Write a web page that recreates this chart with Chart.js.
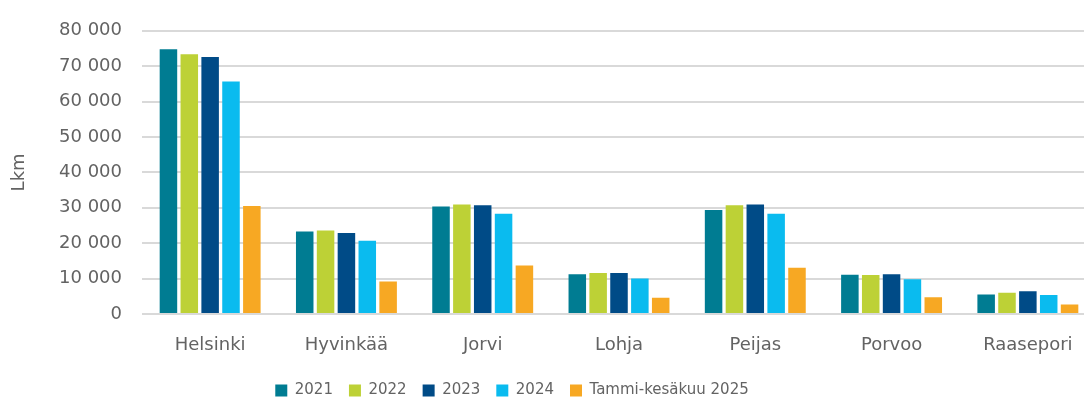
<!DOCTYPE html>
<html>
<head>
<meta charset="utf-8">
<script src="https://cdn.jsdelivr.net/npm/chart.js@4/dist/chart.umd.min.js"></script>
<style>
    html, body { margin: 0; padding: 0; background: #fff; overflow: hidden; width: 1084px; height: 401px; }
    #wrap { width: 1096px; height: 401px; }
</style>
</head>
<body>
<div id="wrap"><canvas id="chart"></canvas></div>
<script>
const hospitals = ["Helsinki", "Hyvinkää", "Jorvi", "Lohja", "Peijas", "Porvoo", "Raasepori"];
const seriesNames = ["2021", "2022", "2023", "2024", "Tammi-kesäkuu 2025"];
const colors = ["#007c92", "#bdd136", "#004b87", "#0abbef", "#f7a823"];
const values2021 = [74800, 23300, 30400, 11200, 29400, 11100, 5500];
const values2022 = [73400, 23600, 30900, 11600, 30700, 11000, 6000];
const values2023 = [72600, 22900, 30700, 11600, 30900, 11200, 6400];
const values2024 = [65700, 20700, 28300, 10000, 28300, 9800, 5400];
const values2025 = [30500, 9200, 13700, 4600, 13100, 4700, 2700];
const yTicks = [0, 10000, 20000, 30000, 40000, 50000, 60000, 70000, 80000];

const FONT = "'DejaVu Sans', sans-serif";
const GREY = "#636363";

// legend sits a bit left of the canvas centre and lower than default
const shiftLegend = {
    id: "shiftLegend",
    afterLayout(chart) {
        const lg = chart.legend;
        if (!lg) return;
        lg.left -= 36;
        lg.right -= 36;
        lg.top += 7;
        lg.bottom += 7;
    }
};

const allValues = [values2021, values2022, values2023, values2024, values2025];

new Chart(document.getElementById("chart"), {
    type: "bar",
    data: {
        labels: hospitals,
        datasets: seriesNames.map((name, i) => ({
            label: name,
            data: allValues[i],
            backgroundColor: colors[i],
            borderWidth: 0,
            barPercentage: 0.84,
            categoryPercentage: 0.765
        }))
    },
    options: {
        responsive: true,
        maintainAspectRatio: false,
        animation: false,
        layout: { padding: { top: 24, bottom: 0, left: 0, right: 0 } },
        plugins: {
            legend: {
                position: "bottom",
                labels: {
                    font: { family: FONT, size: 15 },
                    color: GREY,
                    boxWidth: 12,
                    boxHeight: 12,
                    padding: 16
                }
            },
            tooltip: { enabled: false }
        },
        scales: {
            x: {
                grid: { display: false },
                border: { display: false },
                ticks: { font: { family: FONT, size: 18 }, color: GREY, padding: 13, maxRotation: 0 },
                afterFit: scale => { scale.height = 46; }
            },
            y: {
                min: 0,
                max: 80000,
                afterBuildTicks: scale => { scale.ticks = yTicks.map(v => ({ value: v })); },
                grid: { color: "#d9d9d9", lineWidth: 2, drawTicks: false },
                border: { display: false },
                ticks: {
                    font: { family: FONT, size: 18 },
                    color: GREY,
                    padding: 20,
                    callback: v => String(v).replace(/\B(?=(\d{3})+(?!\d))/g, " ")
                },
                title: { display: true, text: "Lkm", font: { family: FONT, size: 18 }, color: GREY, padding: { top: 9, bottom: 0 } },
                afterFit: scale => { scale.width = 142; }
            }
        }
    },
    plugins: [shiftLegend]
});
</script>
</body>
</html>
